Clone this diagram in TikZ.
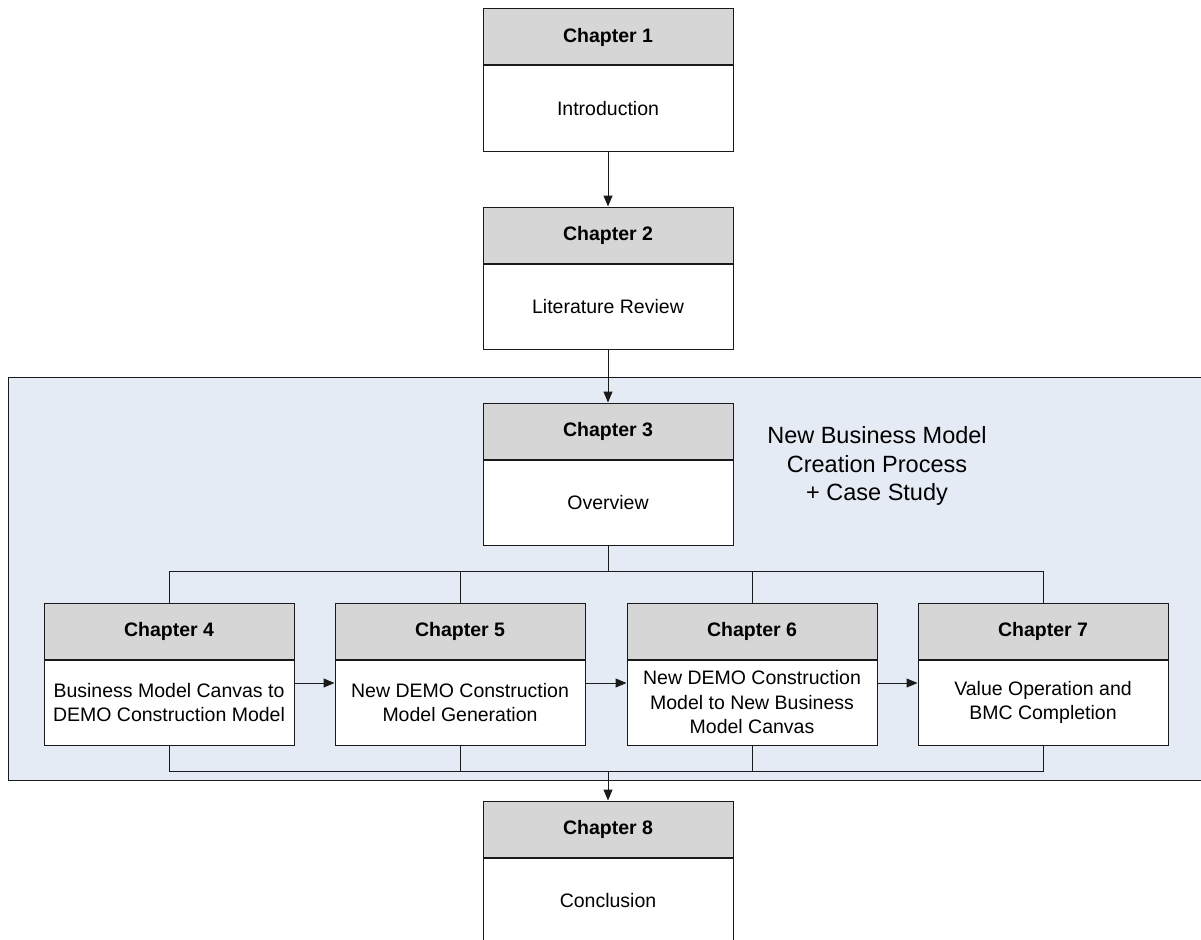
\documentclass[tikz,border=0pt]{standalone}
\usepackage{fontspec}
\setmainfont{Liberation Sans}
\usetikzlibrary{arrows.meta}
\definecolor{linec}{HTML}{1A1A1A}
\definecolor{hdrfill}{HTML}{D6D6D6}
\definecolor{grpfill}{HTML}{E5EBF5}
\begin{document}
\begin{tikzpicture}[x=1pt,y=-1pt,
  font=\fontsize{19.5}{24.5}\selectfont,
  hdr/.style={draw=linec, fill=hdrfill, line width=1pt, minimum width=250pt,
    minimum height=56pt, inner sep=0pt, font=\fontsize{19.5}{24.5}\selectfont\bfseries},
  bdy/.style={draw=linec, fill=white, line width=1pt, minimum width=250pt,
    minimum height=85pt, inner sep=0pt, align=center, anchor=north},
  link/.style={draw=linec, line width=1pt},
  flow/.style={link, -{Triangle[length=11pt,width=9pt]}}]
\useasboundingbox (0,0) rectangle (1201,939);
\clip (0,0) rectangle (1201,939);

% group of the core chapters (runs past the right edge)
\node[draw=linec, fill=grpfill, line width=1pt, minimum width=1210pt, minimum height=403pt,
  inner sep=0pt, anchor=north west] (grp) at (8,377) {};
\node[align=center, font=\fontsize{23.5}{28.5}\selectfont] (grptxt) at (877,466)
  {New Business Model\\Creation Process\\+ Case Study};

% chapter boxes: grey header over white body
\node[hdr] (c1h) at (608,37) {Chapter 1};
\node[bdy] (c1b) at (c1h.south) {Introduction};
\node[hdr] (c2h) at (608,235) {Chapter 2};
\node[bdy] (c2b) at (c2h.south) {Literature Review};
\node[hdr] (c3h) at (608,431) {Chapter 3};
\node[bdy] (c3b) at (c3h.south) {Overview};
\node[hdr] (c4h) at (169,631) {Chapter 4};
\node[bdy] (c4b) at (c4h.south) {Business Model Canvas to\\DEMO Construction Model};
\node[hdr] (c5h) at (460,631) {Chapter 5};
\node[bdy] (c5b) at (c5h.south) {New DEMO Construction\\Model Generation};
\node[hdr] (c6h) at (752,631) {Chapter 6};
\node[bdy] (c6b) at (c6h.south) {New DEMO Construction\\Model to New Business\\Model Canvas};
\node[hdr] (c7h) at (1043,631) {Chapter 7};
\node[bdy] (c7b) at (c7h.south) {Value Operation and\\BMC Completion};
\node[hdr] (c8h) at (608,829) {Chapter 8};
\node[bdy] (c8b) at (c8h.south) {Conclusion};

% sequential links
\draw[flow] (c1b) -- (c2h);
\draw[flow] (c2b) -- (c3h);

% split from the overview to chapters 4 to 7
\coordinate (split) at (608,571);
\draw[link] (c3b) -- (split);
\draw[link] (c4h.north) -- (c4h.north |- split) -- (c7h.north |- split) -- (c7h.north);
\draw[link] (c5h.north) -- (c5h.north |- split);
\draw[link] (c6h.north) -- (c6h.north |- split);

% merge into the conclusion
\coordinate (merge) at (608,771);
\draw[link] (c4b.south) -- (c4b.south |- merge) -- (c7b.south |- merge) -- (c7b.south);
\draw[link] (c5b.south) -- (c5b.south |- merge);
\draw[link] (c6b.south) -- (c6b.south |- merge);
\draw[flow] (merge) -- (c8h);

% chain between chapters 4 to 7
\draw[flow] ([yshift=19.5pt]c4b.east) -- ([yshift=19.5pt]c5b.west);
\draw[flow] ([yshift=19.5pt]c5b.east) -- ([yshift=19.5pt]c6b.west);
\draw[flow] ([yshift=19.5pt]c6b.east) -- ([yshift=19.5pt]c7b.west);
\end{tikzpicture}
\end{document}
